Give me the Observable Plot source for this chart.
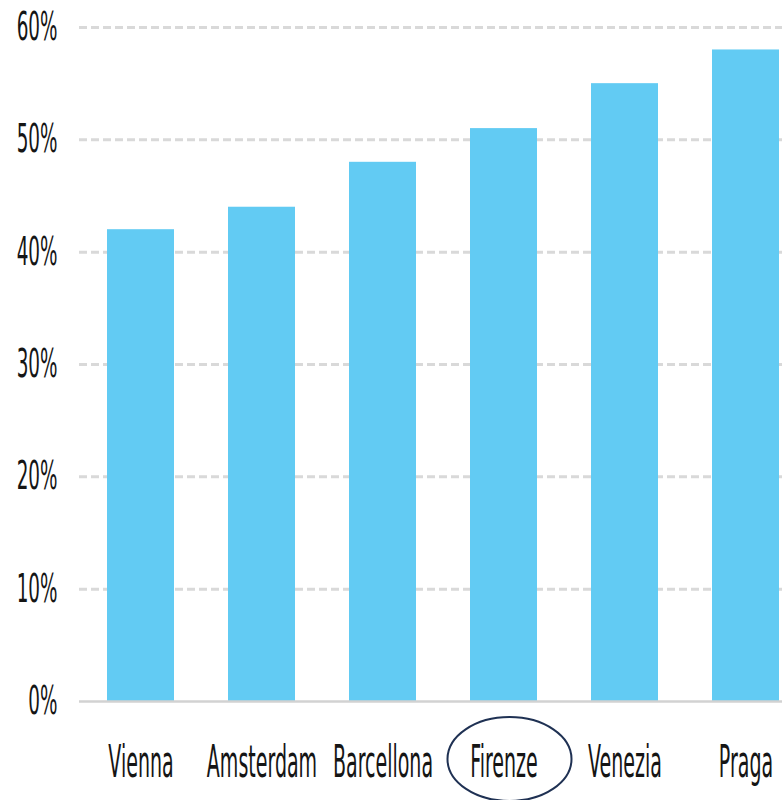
<!DOCTYPE html>
<html>
<head>
<meta charset="utf-8">
<script src="https://cdn.jsdelivr.net/npm/d3@7"></script>
<script src="https://cdn.jsdelivr.net/npm/@observablehq/plot@0.6"></script>
<style>
  html, body { margin: 0; padding: 0; background: #fff; }
  #chart svg { display: block; }
</style>
</head>
<body>
<div id="chart"></div>
<script>
const cities = ["Vienna", "Amsterdam", "Barcellona", "Firenze", "Venezia", "Praga"];
const shares = [0.42, 0.44, 0.48, 0.51, 0.55, 0.58];
const yTicks = [0, 0.1, 0.2, 0.3, 0.4, 0.5, 0.6];
const highlighted = "Firenze";

const data = cities.map((c, i) => ({city: c, share: shares[i]}));
const FONT = "'DejaVu Sans Condensed', 'Liberation Sans Narrow', sans-serif";

const ellipseMark = (index, scales) => {
  const x = scales.x(highlighted) + scales.x.bandwidth() / 2 + 6;
  return d3.create("svg:ellipse")
    .attr("cx", x).attr("cy", 759).attr("rx", 62).attr("ry", 42)
    .attr("fill", "none").attr("stroke", "#1f3153").attr("stroke-width", 2)
    .node();
};

const plot = Plot.plot({
  width: 782,
  height: 800,
  marginTop: 27,
  marginBottom: 99,
  marginLeft: 79,
  marginRight: 0,
  style: {fontFamily: FONT, color: "#151515", background: "#fff"},
  x: {domain: cities, paddingInner: 0.448, paddingOuter: 0.122, align: 0.91, axis: null},
  y: {domain: [0, 0.6], axis: null},
  marks: [
    Plot.ruleY(yTicks.filter(d => d > 0), {stroke: "#d9d9d9", strokeWidth: 3, strokeDasharray: "8,4"}),
    Plot.barY(data, {x: "city", y: "share", fill: "#62cbf3"}),
    Plot.ruleY([0], {stroke: "#d2d2d2", strokeWidth: 2.5}),
    Plot.text(yTicks, {y: d => d, text: d => d3.format(".0%")(d), frameAnchor: "left", textAnchor: "end", lineAnchor: "middle", dx: -22, fontSize: 28, fill: "#151515", className: "ylab"}),
    Plot.text(cities, {x: d => d, text: d => d, frameAnchor: "bottom", lineAnchor: "middle", dy: 61, fontSize: 30, fill: "#151515", className: "xlab"}),
    ellipseMark
  ]
});

document.getElementById("chart").appendChild(plot);

function stretch(sel, sx, sy, anchorRight) {
  plot.querySelectorAll(sel).forEach(t => {
    const bb = t.getBBox();
    const cx = anchorRight ? bb.x + bb.width : bb.x + bb.width / 2;
    const cy = bb.y + bb.height / 2;
    const T = t.getAttribute("transform") || "";
    t.setAttribute("transform", `${T} translate(${cx},${cy}) scale(${sx},${sy}) translate(${-cx},${-cy})`);
  });
}
stretch("g.ylab text", 0.73, 1.37, true);
stretch("g.xlab text", 0.705, 1.46, false);
</script>
</body>
</html>
